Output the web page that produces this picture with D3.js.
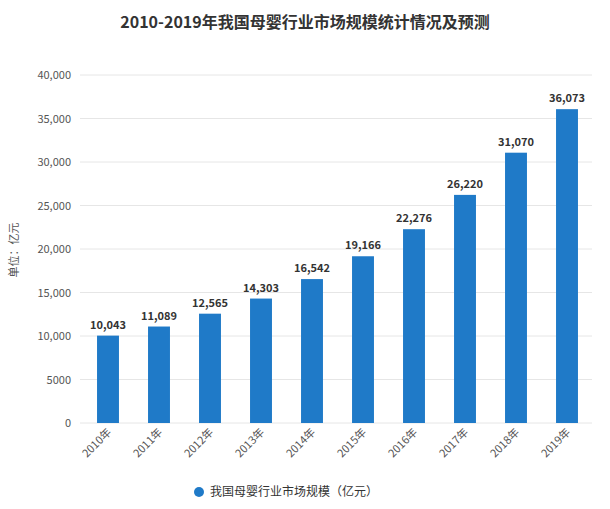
<!DOCTYPE html>
<html><head><meta charset="utf-8">
<script src="https://cdn.jsdelivr.net/npm/d3@7"></script>
<style>body{margin:0;background:#fff;font-family:"Noto Sans CJK SC","Noto Sans",sans-serif}</style>
</head><body><svg id="c" width="610" height="509"></svg>
<script>
const categories=["2010年","2011年","2012年","2013年","2014年","2015年","2016年","2017年","2018年","2019年"];
const values=[10043,11089,12565,14303,16542,19166,22276,26220,31070,36073];
const yTicks=[0,5000,10000,15000,20000,25000,30000,35000,40000];
const yTickLabels=["0","5000","10,000","15,000","20,000","25,000","30,000","35,000","40,000"];
const svg=d3.select("#c");
const x=d3.scaleBand().domain(categories).range([82.5,592.5]).paddingInner(0.57).paddingOuter(0.285);
const y=d3.scaleLinear().domain([0,40000]).range([423,75]);
svg.append("text").attr("x",305).attr("y",28).attr("text-anchor","middle").attr("font-size",16).attr("font-weight","bold").attr("fill","#333").text("2010-2019年我国母婴行业市场规模统计情况及预测");
svg.selectAll(".g").data(yTicks).enter().append("line").attr("x1",80).attr("x2",592).attr("y1",d=>y(d)).attr("y2",d=>y(d)).attr("stroke","#e6e6e6");
svg.selectAll(".yt").data(yTicks).enter().append("text").attr("x",71).attr("y",d=>y(d)+4).attr("text-anchor","end").attr("font-size",11).attr("fill","#555").text((d,i)=>yTickLabels[i]);
svg.append("text").attr("transform","translate(18,250) rotate(-90)").attr("text-anchor","middle").attr("font-size",11).attr("fill","#555").text("单位：亿元");
svg.selectAll(".b").data(values).enter().append("rect").attr("x",(d,i)=>x(categories[i])).attr("width",x.bandwidth()).attr("y",d=>y(d)).attr("height",d=>y(0)-y(d)).attr("fill","#1f7ac8");
svg.selectAll(".v").data(values).enter().append("text").attr("x",(d,i)=>x(categories[i])+x.bandwidth()/2).attr("y",d=>y(d)-7).attr("text-anchor","middle").attr("font-size",11).attr("font-weight","bold").attr("fill","#333").text(d=>d3.format(",")(d));
svg.selectAll(".xt").data(categories).enter().append("text").attr("transform",d=>`translate(${x(d)+x.bandwidth()/2+4},${433}) rotate(-45)`).attr("text-anchor","end").attr("font-size",11).attr("fill","#555").text(d=>d);
svg.append("circle").attr("cx",199).attr("cy",492).attr("r",5).attr("fill","#1f7ac8");
svg.append("text").attr("x",210).attr("y",496).attr("font-size",12).attr("fill","#333").text("我国母婴行业市场规模（亿元）");
</script></body></html>
